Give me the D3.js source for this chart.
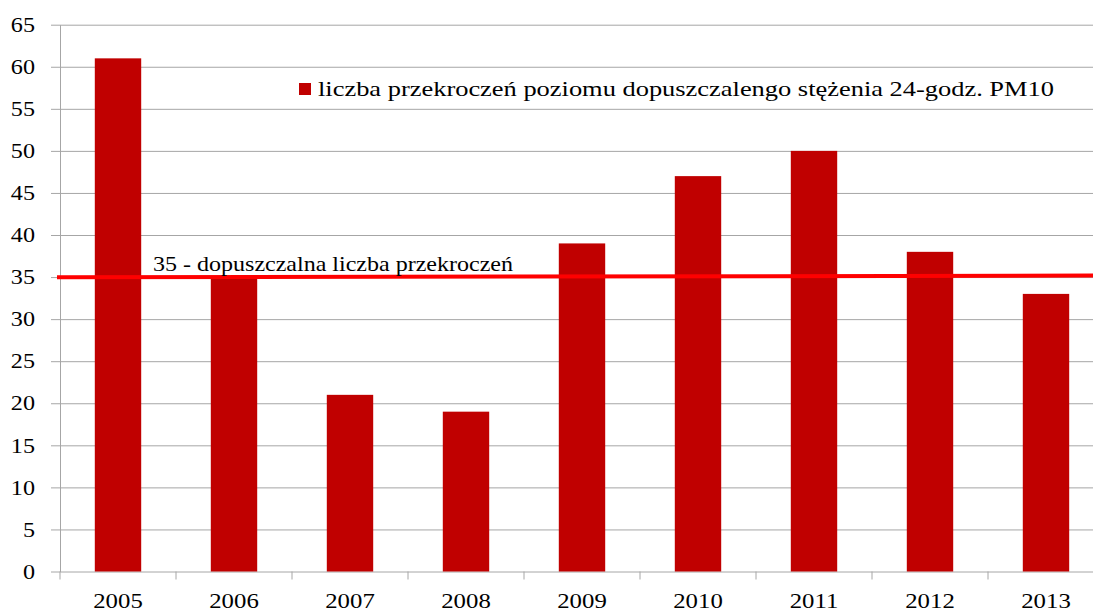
<!DOCTYPE html>
<html>
<head>
<meta charset="utf-8">
<script src="https://cdn.jsdelivr.net/npm/d3@7"></script>
<style>
  body { margin: 0; background: #fff; }
  svg { display: block; font-family: "Liberation Serif", "Times New Roman", serif; }
</style>
</head>
<body>
<svg id="chart" width="1093" height="612"></svg>
<script>
var YEARS = ['2005', '2006', '2007', '2008', '2009', '2010', '2011', '2012', '2013'];
var EXCEEDANCES = [61, 35, 21, 19, 39, 47, 50, 38, 33];
var Y_TICKS = [0, 5, 10, 15, 20, 25, 30, 35, 40, 45, 50, 55, 60, 65];
var LIMIT = 35;
var LEGEND_LABEL = 'liczba przekroczeń poziomu dopuszczalengo stężenia 24-godz. PM10';
var LIMIT_LABEL = '35 - dopuszczalna liczba przekroczeń';

var BAR_COLOR = '#c00000';
var LINE_COLOR = '#ff0000';
var GRID_COLOR = '#a6a6a6';
var STRETCH = 1.15; // the original picture is widened a bit

var svg = d3.select('#chart');

// plot runs past the right edge of the picture, like the original
var margin = { left: 60, right: 1104, top: 24.7, bottom: 571.5 };

var x = d3.scaleBand()
    .domain(YEARS)
    .range([margin.left, margin.right])
    .paddingInner(0.6)
    .paddingOuter(0.3);

var y = d3.scaleLinear().domain([0, 65]).range([margin.bottom, margin.top]);

// ----- gridlines + y axis -----
var yAxis = svg.append('g')
    .attr('transform', 'translate(' + margin.left + ',0)')
    .call(d3.axisLeft(y).tickValues(Y_TICKS).tickSizeInner(9).tickSizeOuter(0));
yAxis.select('.domain').attr('stroke', GRID_COLOR);
yAxis.selectAll('.tick line').attr('stroke', GRID_COLOR);
yAxis.selectAll('.tick').append('line')
    .attr('x1', 0).attr('x2', 1093 - margin.left)
    .attr('stroke', GRID_COLOR);
yAxis.selectAll('.tick text')
    .attr('x', 0)
    .attr('transform', 'translate(-25,0) scale(' + STRETCH + ',1)')
    .attr('fill', '#000')
    .style('font-size', '21px')
    .style('font-family', '"Liberation Serif", serif');

// ----- x axis: ticks between categories -----
var xg = svg.append('g');
var step = x.step();
xg.selectAll('line.sep')
    .data(d3.range(YEARS.length + 1))
  .enter().append('line')
    .attr('class', 'sep')
    .attr('x1', (i) => margin.left + i * step)
    .attr('x2', (i) => margin.left + i * step)
    .attr('y1', margin.bottom)
    .attr('y2', margin.bottom + 8)
    .attr('stroke', GRID_COLOR);

xg.selectAll('text')
    .data(YEARS)
  .enter().append('text')
    .attr('transform', (d) => 'translate(' + (x(d) + x.bandwidth() / 2) + ',' +
      (margin.bottom + 36) + ') scale(1.18,1)')
    .attr('text-anchor', 'middle')
    .style('font-size', '21px')
    .text((d) => d);

// ----- bars -----
svg.selectAll('.bar')
    .data(YEARS)
  .enter().append('rect')
    .attr('class', 'bar')
    .attr('x', (d) => x(d))
    .attr('width', x.bandwidth())
    .attr('y', (d, i) => y(EXCEEDANCES[i]))
    .attr('height', (d, i) => margin.bottom - y(EXCEEDANCES[i]))
    .attr('fill', BAR_COLOR);

// ----- limit line -----
svg.append('line')
    .attr('x1', margin.left - 3)
    .attr('x2', 1093)
    .attr('y1', y(LIMIT) + 0.3)
    .attr('y2', y(LIMIT) - 1.5)
    .attr('stroke', LINE_COLOR)
    .attr('stroke-width', 4);

svg.append('text')
    .attr('x', 153)
    .attr('y', 271)
    .attr('textLength', 360)
    .attr('lengthAdjust', 'spacingAndGlyphs')
    .style('font-size', '21px')
    .text(LIMIT_LABEL);

// ----- legend -----
svg.append('rect')
    .attr('x', 299).attr('y', 83)
    .attr('width', 12).attr('height', 12)
    .attr('fill', BAR_COLOR);

svg.append('text')
    .attr('x', 318)
    .attr('y', 96)
    .attr('textLength', 736)
    .attr('lengthAdjust', 'spacingAndGlyphs')
    .style('font-size', '21.5px')
    .text(LEGEND_LABEL);
</script>
</body>
</html>
